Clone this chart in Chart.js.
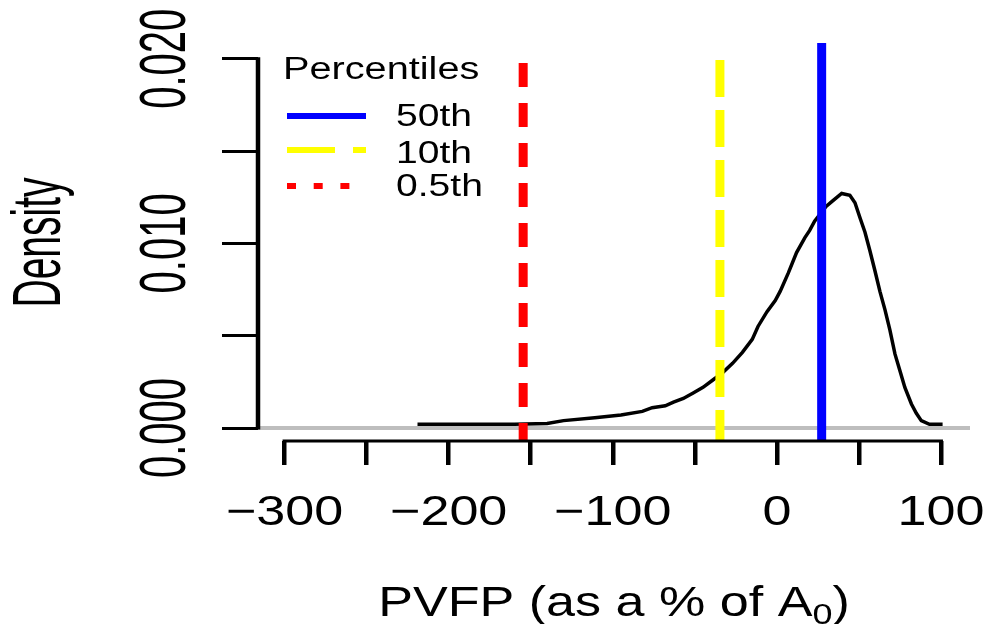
<!DOCTYPE html>
<html>
<head>
<meta charset="utf-8">
<script src="https://cdn.jsdelivr.net/npm/chart.js@4.4.1/dist/chart.umd.min.js"></script>
<style>
  html, body { margin: 0; padding: 0; background: #fff; }
  #wrap { width: 991px; height: 624px; }
</style>
</head>
<body>
<div id="wrap"><canvas id="densityChart"></canvas></div>
<script>
// density curve
const densX = [-219, -200, -180, -160, -140, -130, -111, -95, -82, -76, -68, -63, -57, -51, -45,
  -39, -33, -27, -21, -15, -11.5, -6, -1, 2, 7, 12, 17, 20, 23, 30, 34, 39.5, 44.5, 47.6, 50.6,
  53.7, 56.7, 59.8, 62.8, 65.9, 68.9, 72, 75, 78, 82, 85, 88, 93, 101];
const densY = [0.0002, 0.0002, 0.0002, 0.0002, 0.00025, 0.0004, 0.00055, 0.0007, 0.0009, 0.0011,
  0.0012, 0.0014, 0.0016, 0.0019, 0.0022, 0.0026, 0.0030, 0.0035, 0.0041, 0.0048, 0.0055, 0.0063,
  0.0069, 0.0074, 0.0084, 0.0095, 0.0103, 0.0107, 0.0112, 0.0120, 0.0123, 0.0127, 0.0126, 0.0122,
  0.0114, 0.0106, 0.0096, 0.0085, 0.0074, 0.0064, 0.0053, 0.0040, 0.0031, 0.0022, 0.0013, 0.0008,
  0.0004, 0.0002, 0.0002];

// percentile lines
const pctNames = ['50th', '10th', '0.5th'];
const pctValues = [27.3, -34.7, -154.6];

const xTickValues = [-300, -200, -100, 0, 100];
const xTickLabels = ['\u2212300', '\u2212200', '\u2212100', '0', '100'];
const yTickValues = [0, 0.01, 0.02];
const yTickLabels = ['0.000', '0.010', '0.020'];

const xMin = -316.2, xMax = 117.7;
const yMin = -0.000704, yMax = 0.02085;

const pctColors = ['#0000ff', '#ffff00', '#ff0000'];
const vDash = [[], [37, 13], [24, 16]];
const legendDash = [[], [48, 18], [9, 17.7]];
const FONT = "'Liberation Sans', Arial, sans-serif";

function hText(ctx, text, x, y, size, sx, align) {
  ctx.save();
  ctx.font = size + 'px ' + FONT;
  ctx.translate(x, y);
  ctx.scale(sx, 1);
  ctx.textAlign = align;
  ctx.textBaseline = 'alphabetic';
  ctx.fillText(text, 0, 0);
  ctx.restore();
}

function vText(ctx, text, x, y, size, sy) {
  ctx.save();
  ctx.font = size + 'px ' + FONT;
  ctx.translate(x, y);
  ctx.rotate(-Math.PI / 2);
  ctx.scale(1, sy);
  ctx.textAlign = 'center';
  ctx.textBaseline = 'alphabetic';
  ctx.fillText(text, 0, 0);
  ctx.restore();
}

const axisPainter = {
  id: 'axisPainter',
  afterDraw(chart) {
    const ctx = chart.ctx;
    const xs = chart.scales.x, ys = chart.scales.y;
    const area = chart.chartArea;
    ctx.save();
    ctx.strokeStyle = '#000';
    ctx.fillStyle = '#000';

    // x axis line
    ctx.lineWidth = 3;
    ctx.beginPath();
    ctx.moveTo(xs.getPixelForValue(xTickValues[0]) - 2, area.bottom);
    ctx.lineTo(xs.getPixelForValue(xTickValues[xTickValues.length - 1]) + 2, area.bottom);
    ctx.stroke();

    // y axis line
    ctx.lineWidth = 4.5;
    ctx.beginPath();
    ctx.moveTo(area.left, ys.getPixelForValue(yTickValues[0]) + 1.5);
    ctx.lineTo(area.left, ys.getPixelForValue(yTickValues[yTickValues.length - 1]) - 1.5);
    ctx.stroke();

    // tick labels
    xTickValues.forEach((v, i) => {
      hText(ctx, xTickLabels[i], xs.getPixelForValue(v), 525, 42, 1.24, 'center');
    });
    yTickValues.forEach((v, i) => {
      vText(ctx, yTickLabels[i], 185, ys.getPixelForValue(v), 40, 1.64);
    });

    // axis titles
    ctx.font = '42px ' + FONT;
    const mainTxt = 'PVFP (as a % of A';
    const wMain = ctx.measureText(mainTxt).width * 1.24;
    ctx.font = '29px ' + FONT;
    const wSub = ctx.measureText('0').width * 1.24;
    ctx.font = '42px ' + FONT;
    const wClose = ctx.measureText(')').width * 1.24;
    const cx = (area.left + area.right) / 2;
    let tx = cx - (wMain + wSub + wClose) / 2;
    hText(ctx, mainTxt, tx, 616, 42, 1.24, 'left');
    tx += wMain;
    hText(ctx, '0', tx, 624, 29, 1.24, 'left');
    tx += wSub;
    hText(ctx, ')', tx, 616, 42, 1.24, 'left');

    vText(ctx, 'Density', 60, 242.5, 39, 1.75);

    // legend
    hText(ctx, 'Percentiles', 283, 79, 31, 1.28, 'left');
    const rowY = [116, 150, 186];
    const rowBase = [126, 163, 196];
    pctNames.forEach((name, i) => {
      ctx.save();
      ctx.strokeStyle = pctColors[i];
      ctx.lineWidth = 6;
      ctx.setLineDash(legendDash[i]);
      ctx.beginPath();
      ctx.moveTo(287, rowY[i]);
      ctx.lineTo(366, rowY[i]);
      ctx.stroke();
      ctx.restore();
      hText(ctx, name, 396, rowBase[i], 31, 1.26, 'left');
    });
    ctx.restore();
  }
};

const datasets = pctValues.map((v, i) => ({
  label: pctNames[i],
  data: [{x: v, y: yMin}, {x: v, y: yMax}],
  borderColor: pctColors[i],
  borderWidth: 9,
  borderDash: vDash[i],
  borderDashOffset: 6,
  pointRadius: 0,
  clip: vDash[i].length ? {left: 6, right: 6, top: -4, bottom: 3} : {left: 6, right: 6, top: 0, bottom: 2}
}));

datasets.push({
  label: 'density',
  data: densX.map((x, i) => ({x: x, y: densY[i]})),
  borderColor: '#000',
  borderWidth: 3.5,
  pointRadius: 0,
  tension: 0
});

datasets.push({
  label: 'zero',
  data: [{x: xMin, y: 0}, {x: xMax, y: 0}],
  borderColor: '#bebebe',
  borderWidth: 4,
  pointRadius: 0
});

new Chart(document.getElementById('densityChart'), {
  type: 'line',
  data: { datasets: datasets },
  options: {
    responsive: true,
    maintainAspectRatio: false,
    animation: false,
    layout: { padding: { left: 222, right: 21, top: 43, bottom: 159 } },
    plugins: { legend: { display: false }, tooltip: { enabled: false } },
    scales: {
      x: {
        type: 'linear',
        min: xMin,
        max: xMax,
        border: { display: false },
        grid: { drawOnChartArea: false, drawTicks: true, tickLength: 24, color: '#000', lineWidth: 4.5 },
        ticks: { display: false, stepSize: 50, includeBounds: false }
      },
      y: {
        type: 'linear',
        min: yMin,
        max: yMax,
        border: { display: false },
        grid: { drawOnChartArea: false, drawTicks: true, tickLength: 36, color: '#000', lineWidth: 3 },
        ticks: { display: false, stepSize: 0.005, includeBounds: false }
      }
    }
  },
  plugins: [axisPainter]
});
</script>
</body>
</html>
